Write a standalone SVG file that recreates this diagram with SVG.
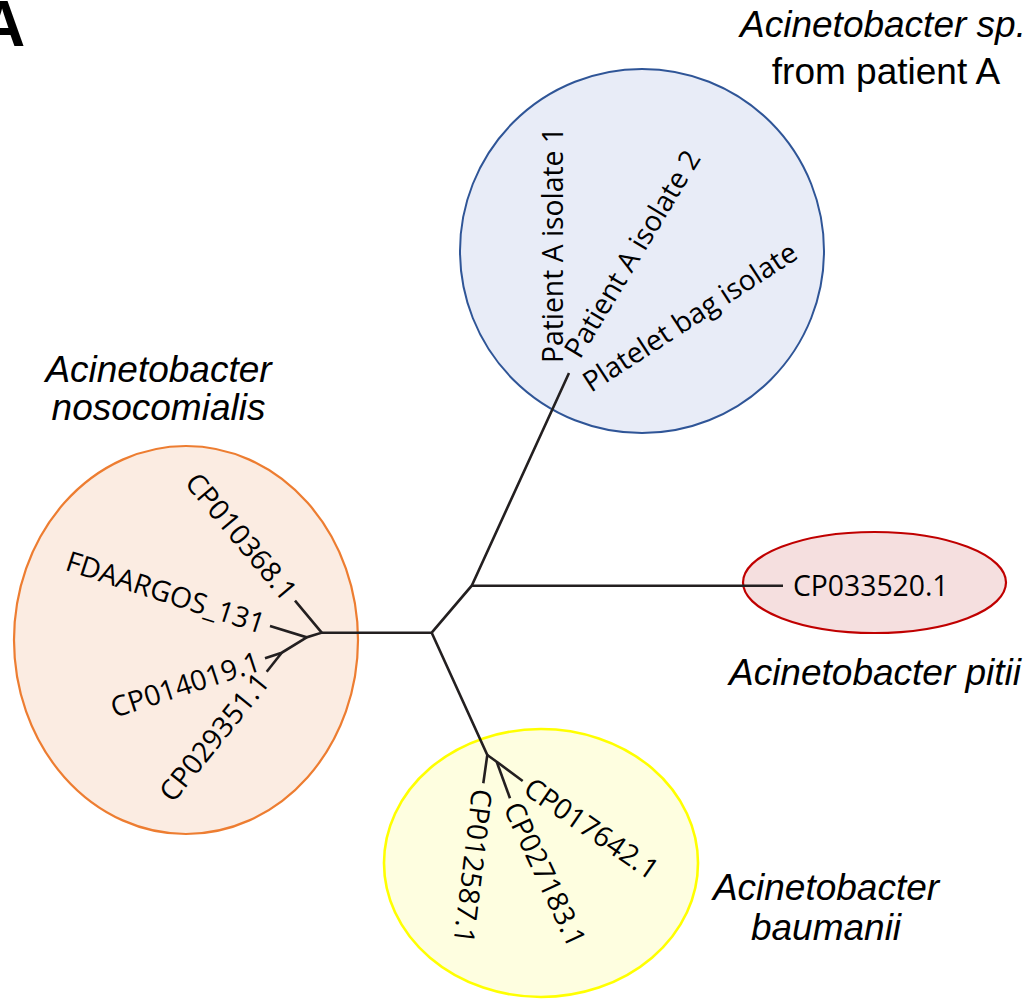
<svg xmlns="http://www.w3.org/2000/svg" width="1032" height="999" viewBox="0 0 1032 999">
<style>
.sp{font-family:"Liberation Sans",Arial,sans-serif;font-style:italic;font-size:37px;fill:#000;text-anchor:middle}
.lb{font-family:"Open Sans","Noto Sans",sans-serif;font-size:28.3px;fill:#000}
.br{stroke:#231f20;stroke-width:2.6;fill:none;stroke-linecap:butt;stroke-linejoin:miter}
</style>
<rect width="1032" height="999" fill="#fff"/>
<text x="-21" y="46" font-family="Liberation Sans, Arial, sans-serif" font-weight="bold" font-size="64">A</text>

<g id="clade-patientA">
<circle cx="642" cy="251" r="182" fill="#e8ecf7" stroke="#2f5597" stroke-width="2"/>
</g>
<g id="clade-nosocomialis">
<ellipse cx="186" cy="640" rx="172" ry="194" fill="#fbece2" stroke="#ed7d31" stroke-width="2.2"/>
</g>
<g id="clade-baumanii">
<ellipse cx="541" cy="863" rx="157" ry="134" fill="#fefee0" stroke="#ffff00" stroke-width="2.6"/>
</g>
<g id="clade-pitii">
<ellipse cx="874.5" cy="582.5" rx="131.5" ry="50.5" fill="#f5dfdf" stroke="#c00000" stroke-width="2.2"/>
</g>

<g id="connectors" class="br">
<path d="M321.7,632.7 H431.7 L471.7,585.7 L569,373"/>
<path d="M471.7,585.7 H783"/>
<path d="M431.7,632.7 L487.3,755 L483.3,783.3"/>
<path d="M487.3,755 L496.7,761.7 L522.7,781"/>
<path d="M496.7,761.7 L510,798.3"/>
<path d="M295,600.7 L321.7,632.7 L306.7,637.3 L270,626"/>
<path d="M306.7,637.3 L281.7,652.7 L265,658.3"/>
<path d="M281.7,652.7 L266.7,671.7"/>
</g>

<g id="labels-patientA" class="lb">
<text transform="translate(563,363) rotate(-90)">Patient A isolate 1</text>
<text transform="translate(580,360) rotate(-59)">Patient A isolate 2</text>
<text transform="translate(591,393) rotate(-33)">Platelet bag isolate</text>
</g>
<g id="labels-nosocomialis" class="lb" text-anchor="end">
<text transform="translate(291.2,596.1) rotate(50.2)" dy="0.36em">CP010368.1</text>
<text transform="translate(264.3,624.2) rotate(18)" dy="0.36em">FDAARGOS_131</text>
<text transform="translate(259.3,660.2) rotate(-18)" dy="0.36em">CP014019.1</text>
<text transform="translate(263,676.4) rotate(-51)" dy="0.36em">CP029351.1</text>
</g>
<g id="labels-baumanii" class="lb">
<text transform="translate(482.5,789.3) rotate(97)" dy="0.36em">CP012587.1</text>
<text transform="translate(512.3,803.8) rotate(65)" dy="0.36em">CP027183.1</text>
<text transform="translate(527.6,784.4) rotate(34.5)" dy="0.36em">CP017642.1</text>
</g>
<g id="labels-pitii" class="lb">
<text x="793" y="586" dy="0.36em">CP033520.1</text>
</g>

<g id="species-labels" class="sp">
<text x="883" y="37">Acinetobacter sp.</text>
<text x="886" y="84" font-style="normal">from patient A</text>
<text x="158.5" y="382">Acinetobacter</text>
<text x="158.5" y="420">nosocomialis</text>
<text x="875" y="685">Acinetobacter pitii</text>
<text x="826" y="900">Acinetobacter</text>
<text x="826" y="940">baumanii</text>
</g>
</svg>
